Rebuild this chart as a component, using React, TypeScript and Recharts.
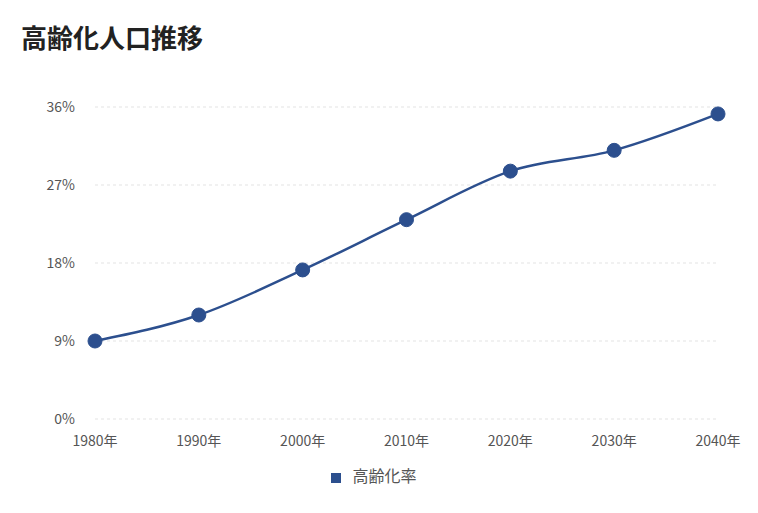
import React from 'react';
import { LineChart, Line, XAxis, YAxis, CartesianGrid, Legend } from 'recharts';

const years = ['1980年', '1990年', '2000年', '2010年', '2020年', '2030年', '2040年'];
const agingRate = [9.0, 12.0, 17.2, 23.0, 28.6, 31.0, 35.2];
const yTicks = [0, 9, 18, 27, 36];

const data = years.map((year, i) => ({ year, rate: agingRate[i] }));

const FONT = '"Noto Sans CJK JP", "Noto Sans", sans-serif';
const BLUE = '#2c4f8e';

const App: React.FC = () => {
  return (
    <div style={{ position: 'absolute', left: 0, top: 0, width: 758, height: 513, background: '#fff', fontFamily: FONT }}>
      <div style={{ position: 'absolute', left: 21, top: 18, fontSize: 26, fontWeight: 700, color: '#222' }}>
        高齢化人口推移
      </div>
      <LineChart
        width={758}
        height={513}
        data={data}
        margin={{ top: 107, right: 40, left: 0, bottom: 26 }}
      >
        <CartesianGrid vertical={false} stroke="#e3e3e3" strokeDasharray="3 3" />
        <XAxis
          dataKey="year"
          axisLine={false}
          tickLine={false}
          height={44}
          tickMargin={11}
          tick={{ fill: '#555', fontSize: 14, fontFamily: FONT }}
        />
        <YAxis
          width={95}
          domain={[0, 36]}
          ticks={yTicks}
          axisLine={false}
          tickLine={false}
          tickMargin={14}
          tickFormatter={(v: number) => `${v}%`}
          tick={{ fill: '#555', fontSize: 14, fontFamily: FONT }}
        />
        <Legend
          verticalAlign="bottom"
          height={24}
          iconType="square"
          iconSize={10}
          wrapperStyle={{ left: 0, width: 758, fontSize: 16, color: '#555', fontFamily: FONT }}
          formatter={(value: string) => <span style={{ color: '#555', marginLeft: 7 }}>{value}</span>}
        />
        <Line
          type="monotone"
          dataKey="rate"
          name="高齢化率"
          stroke={BLUE}
          strokeWidth={2.5}
          dot={{ r: 7, fill: BLUE, stroke: BLUE, strokeWidth: 1 }}
          activeDot={false}
          isAnimationActive={false}
        />
      </LineChart>
    </div>
  );
};

export default App;
